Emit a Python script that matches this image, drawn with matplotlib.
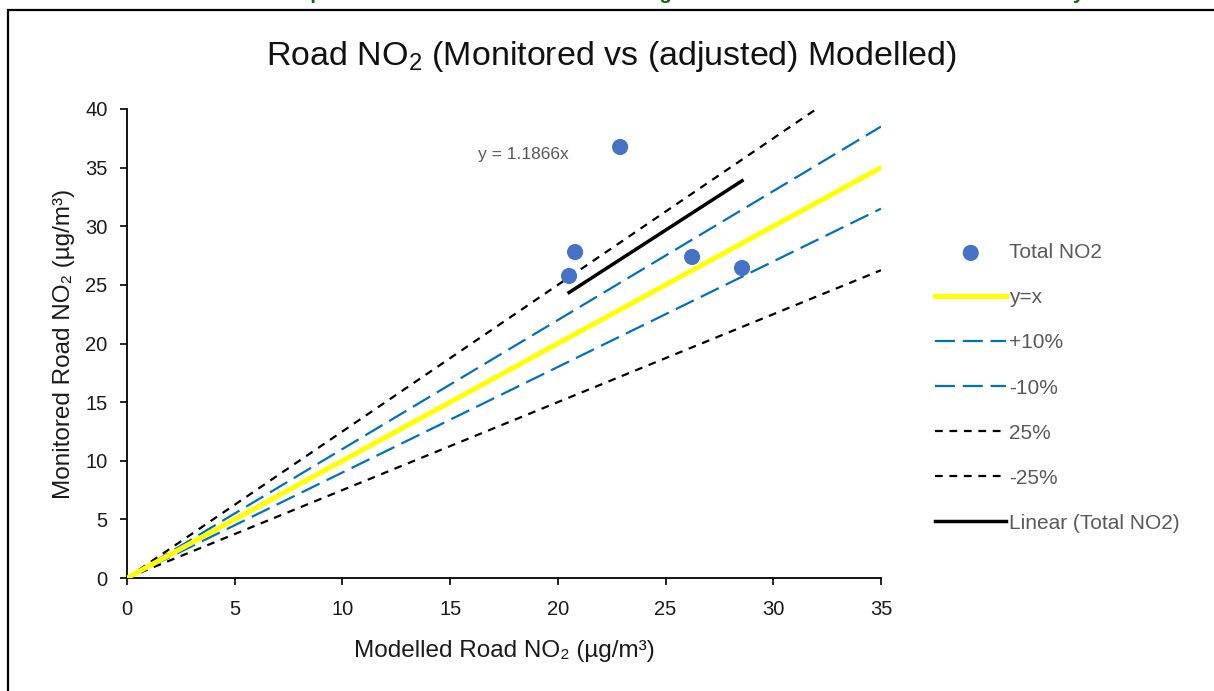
import matplotlib
matplotlib.use("Agg")
import matplotlib.pyplot as plt
from matplotlib.patches import Rectangle

plt.rcParams.update({"font.family": ["Liberation Sans", "DejaVu Sans"], "mathtext.fontset": "custom",
                     "mathtext.rm": "Liberation Sans", "mathtext.it": "Liberation Sans:italic"})

# data
modelled = [20.52, 20.8, 22.89, 26.23, 28.55]
monitored = [25.76, 27.8, 36.76, 27.38, 26.44]
ref_x = [0, 35]
slope = 1.1866
band_factors = {"+10%": 1.1, "-10%": 0.9, "25%": 1.25, "-25%": 0.75}

fig = plt.figure(figsize=(12.14, 6.91), dpi=100)
ax = fig.add_axes([127/1214, 1-578/691, 754/1214, 469/691])

# outer frame and the cut-off caption above it
fig.patches.append(Rectangle((8/1214, -0.1), 1.2, 1-10/691+0.1, transform=fig.transFigure,
                             fill=False, ec="black", lw=1.6, zorder=0))
fig.text(265/1214, 1+1/691, "Comparison of Modelled Road NO2 Using the Local Verification Factor for the Study",
         color="#0b6b12", fontsize=14.8, fontweight="bold", ha="left", va="baseline")

ax.scatter(modelled, monitored, s=135, color="#4472C4", zorder=5, label="Total NO2", edgecolors="none")
ax.plot(ref_x, ref_x, color="#FFFF00", lw=3.6, label="y=x", zorder=3)
for lab in ["+10%", "-10%"]:
    ax.plot(ref_x, [v*band_factors[lab] for v in ref_x], color="#0070C0", lw=1.6, dashes=(9, 3.5), label=lab)
for lab in ["25%", "-25%"]:
    ax.plot(ref_x, [v*band_factors[lab] for v in ref_x], color="black", lw=1.6, dashes=(3.5, 3), label=lab)
fx = [min(modelled), max(modelled)]
ax.plot(fx, [slope*v for v in fx], color="black", lw=2.5, label="Linear (Total NO2)", zorder=4)
ax.text(16.3, 36.1, f"y = {slope}x", color="#595959", fontsize=12.5, va="center", ha="left")

ax.set_xlim(0, 35); ax.set_ylim(0, 40)
ax.set_xticks(range(0, 36, 5)); ax.set_yticks(range(0, 41, 5))
for s in ["top", "right"]:
    ax.spines[s].set_visible(False)
for s in ["left", "bottom"]:
    ax.spines[s].set_linewidth(1.3)
ax.tick_params(direction="out", length=5, width=1.2, labelsize=14.5, labelcolor="#1a1a1a")
ax.tick_params(axis="x", pad=11)
ax.tick_params(axis="y", pad=9)
ax.set_xlabel("Modelled Road NO₂ (µg/m³)", fontsize=17.5, color="#1a1a1a", labelpad=15)
ax.set_ylabel("Monitored Road NO₂ (µg/m³)", fontsize=17.5, color="#1a1a1a", labelpad=7)
fig.text(611/1214, 1-56/691, "Road NO$_2$ (Monitored vs (adjusted) Modelled)", fontsize=24.5,
         color="#111111", ha="center", va="center")

ax.legend(loc="center left", bbox_to_anchor=(927/1214, 1-388/691), bbox_transform=fig.transFigure,
          frameon=False, fontsize=15, labelcolor="#595959", handlelength=3.4, handletextpad=0.15,
          labelspacing=1.25, borderaxespad=0, scatterpoints=1)

fig.savefig("out.png", dpi=100)
